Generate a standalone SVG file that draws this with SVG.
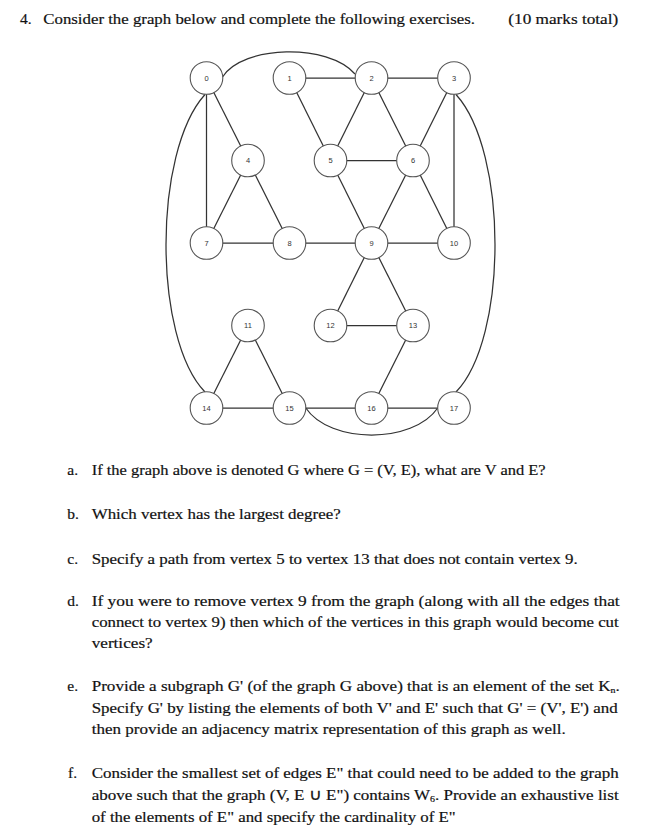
<svg xmlns="http://www.w3.org/2000/svg" width="645" height="838" viewBox="0 0 645 838">
<style>
.e{stroke:#333;stroke-width:1.25;fill:none}
.n circle{fill:#fff;stroke:#555;stroke-width:1.1}
.n text{font-family:"Liberation Sans",Arial,sans-serif;font-size:7.5px;fill:#333;text-anchor:middle}
.t{font-family:"Liberation Serif","Times New Roman",serif;font-size:15.5px;fill:#111;stroke:#111;stroke-width:0.2}
.sub{font-size:9px}
</style>
<rect width="645" height="838" fill="#fff"/>
<g id="edges">
<line class="e" x1="289.5" y1="78" x2="371.5" y2="78"/>
<line class="e" x1="371.5" y1="78" x2="454" y2="78"/>
<line class="e" x1="206.5" y1="78" x2="248" y2="160.5"/>
<line class="e" x1="206.5" y1="78" x2="206.5" y2="243"/>
<line class="e" x1="289.5" y1="78" x2="330.5" y2="160.5"/>
<line class="e" x1="371.5" y1="78" x2="330.5" y2="160.5"/>
<line class="e" x1="371.5" y1="78" x2="413" y2="160.5"/>
<line class="e" x1="454" y1="78" x2="413" y2="160.5"/>
<line class="e" x1="454" y1="78" x2="454" y2="243"/>
<line class="e" x1="248" y1="160.5" x2="206.5" y2="243"/>
<line class="e" x1="248" y1="160.5" x2="289.5" y2="243"/>
<line class="e" x1="330.5" y1="160.5" x2="413" y2="160.5"/>
<line class="e" x1="330.5" y1="160.5" x2="371.5" y2="243"/>
<line class="e" x1="413" y1="160.5" x2="371.5" y2="243"/>
<line class="e" x1="413" y1="160.5" x2="454" y2="243"/>
<line class="e" x1="206.5" y1="243" x2="289.5" y2="243"/>
<line class="e" x1="289.5" y1="243" x2="371.5" y2="243"/>
<line class="e" x1="371.5" y1="243" x2="454" y2="243"/>
<line class="e" x1="371.5" y1="243" x2="330.5" y2="325.5"/>
<line class="e" x1="371.5" y1="243" x2="413" y2="325.5"/>
<line class="e" x1="330.5" y1="325.5" x2="413" y2="325.5"/>
<line class="e" x1="413" y1="325.5" x2="371.5" y2="408"/>
<line class="e" x1="248" y1="325.5" x2="206.5" y2="408"/>
<line class="e" x1="248" y1="325.5" x2="289.5" y2="408"/>
<line class="e" x1="206.5" y1="408" x2="289.5" y2="408"/>
<line class="e" x1="289.5" y1="408" x2="371.5" y2="408"/>
<line class="e" x1="371.5" y1="408" x2="454" y2="408"/>
<path class="e" d="M222.5,77 C243,45 328,43 355,74"/>
<path class="e" d="M205,94.5 C153,152 153,338 205,392"/>
<path class="e" d="M456,94.5 C508,152 508,338 456,392"/>
<path class="e" d="M305.8,408 C330,444 413,444 437.7,408"/>
</g>
<g id="n0" class="n"><circle cx="206.5" cy="78" r="16.3"/><text x="206.5" y="80.7">0</text></g>
<g id="n1" class="n"><circle cx="289.5" cy="78" r="16.3"/><text x="289.5" y="80.7">1</text></g>
<g id="n2" class="n"><circle cx="371.5" cy="78" r="16.3"/><text x="371.5" y="80.7">2</text></g>
<g id="n3" class="n"><circle cx="454" cy="78" r="16.3"/><text x="454" y="80.7">3</text></g>
<g id="n4" class="n"><circle cx="248" cy="160.5" r="16.3"/><text x="248" y="163.2">4</text></g>
<g id="n5" class="n"><circle cx="330.5" cy="160.5" r="16.3"/><text x="330.5" y="163.2">5</text></g>
<g id="n6" class="n"><circle cx="413" cy="160.5" r="16.3"/><text x="413" y="163.2">6</text></g>
<g id="n7" class="n"><circle cx="206.5" cy="243" r="16.3"/><text x="206.5" y="245.7">7</text></g>
<g id="n8" class="n"><circle cx="289.5" cy="243" r="16.3"/><text x="289.5" y="245.7">8</text></g>
<g id="n9" class="n"><circle cx="371.5" cy="243" r="16.3"/><text x="371.5" y="245.7">9</text></g>
<g id="n10" class="n"><circle cx="454" cy="243" r="16.3"/><text x="454" y="245.7">10</text></g>
<g id="n11" class="n"><circle cx="248" cy="325.5" r="16.3"/><text x="248" y="328.2">11</text></g>
<g id="n12" class="n"><circle cx="330.5" cy="325.5" r="16.3"/><text x="330.5" y="328.2">12</text></g>
<g id="n13" class="n"><circle cx="413" cy="325.5" r="16.3"/><text x="413" y="328.2">13</text></g>
<g id="n14" class="n"><circle cx="206.5" cy="408" r="16.3"/><text x="206.5" y="410.7">14</text></g>
<g id="n15" class="n"><circle cx="289.5" cy="408" r="16.3"/><text x="289.5" y="410.7">15</text></g>
<g id="n16" class="n"><circle cx="371.5" cy="408" r="16.3"/><text x="371.5" y="410.7">16</text></g>
<g id="n17" class="n"><circle cx="454" cy="408" r="16.3"/><text x="454" y="410.7">17</text></g>
<g id="text">
<text class="t" x="20" y="24">4.</text>
<text class="t" x="43.3" y="24" textLength="431.7" lengthAdjust="spacingAndGlyphs">Consider the graph below and complete the following exercises.</text>
<text class="t" x="508.3" y="24" textLength="110" lengthAdjust="spacingAndGlyphs">(10 marks total)</text>
<text class="t" x="67.3" y="474.5">a.</text>
<text class="t" x="91.7" y="474.5" textLength="454" lengthAdjust="spacingAndGlyphs">If the graph above is denoted G where G = (V, E), what are V and E?</text>
<text class="t" x="67.3" y="519">b.</text>
<text class="t" x="91.7" y="519" textLength="249" lengthAdjust="spacingAndGlyphs">Which vertex has the largest degree?</text>
<text class="t" x="67.3" y="563.5">c.</text>
<text class="t" x="91.7" y="563.5" textLength="486" lengthAdjust="spacingAndGlyphs">Specify a path from vertex 5 to vertex 13 that does not contain vertex 9.</text>
<text class="t" x="67.3" y="606">d.</text>
<text class="t" x="91.7" y="606" textLength="528" lengthAdjust="spacingAndGlyphs">If you were to remove vertex 9 from the graph (along with all the edges that</text>
<text class="t" x="91.7" y="627.3" textLength="527" lengthAdjust="spacingAndGlyphs">connect to vertex 9) then which of the vertices in this graph would become cut</text>
<text class="t" x="91.7" y="647.5" textLength="61" lengthAdjust="spacingAndGlyphs">vertices?</text>
<text class="t" x="67.3" y="691">e.</text>
<text class="t" x="91.7" y="691" textLength="528" lengthAdjust="spacingAndGlyphs">Provide a subgraph G' (of the graph G above) that is an element of the set K<tspan class="sub" dy="1.5">n</tspan><tspan dy="-1.5">.</tspan></text>
<text class="t" x="91.7" y="713" textLength="526" lengthAdjust="spacingAndGlyphs">Specify G' by listing the elements of both V' and E' such that G' = (V', E') and</text>
<text class="t" x="91.7" y="734" textLength="474" lengthAdjust="spacingAndGlyphs">then provide an adjacency matrix representation of this graph as well.</text>
<text class="t" x="68" y="778">f.</text>
<text class="t" x="91.7" y="778" textLength="527" lengthAdjust="spacingAndGlyphs">Consider the smallest set of edges E" that could need to be added to the graph</text>
<text class="t" x="91.7" y="800" textLength="527" lengthAdjust="spacingAndGlyphs">above such that the graph (V, E ∪ E") contains W<tspan class="sub" dy="1.5">6</tspan><tspan dy="-1.5">. Provide an exhaustive list</tspan></text>
<text class="t" x="91.7" y="821.5" textLength="364" lengthAdjust="spacingAndGlyphs">of the elements of E" and specify the cardinality of E"</text>
</g>
</svg>
